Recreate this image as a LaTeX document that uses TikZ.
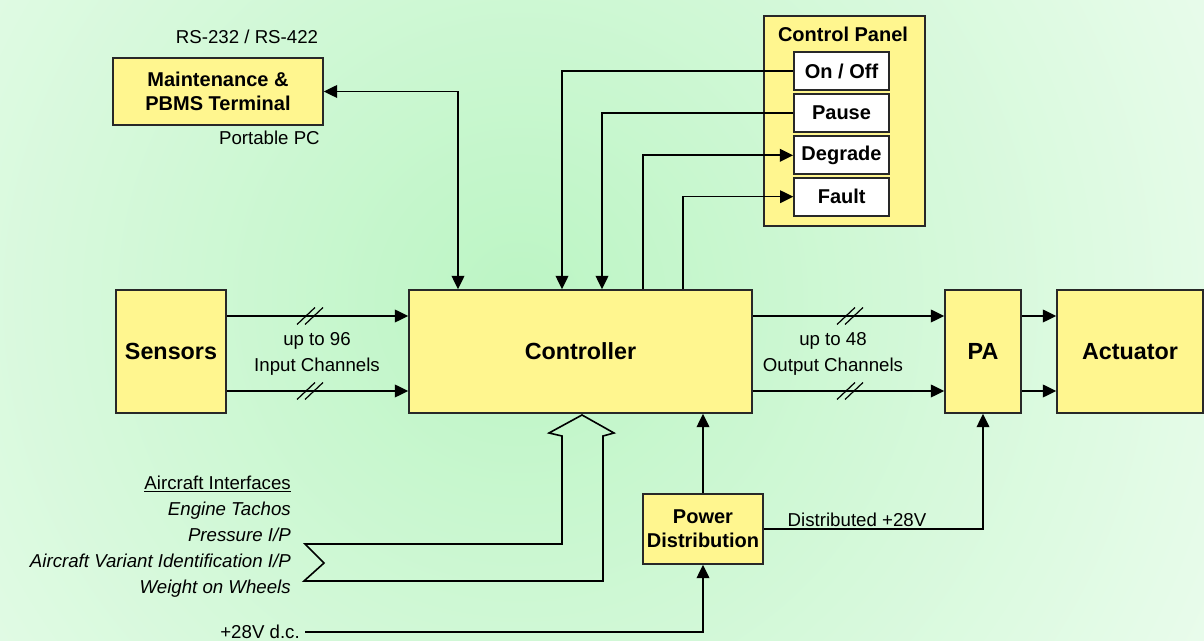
\documentclass[tikz,border=0pt]{standalone}
\usepackage{fontspec}
\setmainfont{Liberation Sans}
\usetikzlibrary{arrows.meta,calc}
\definecolor{boxyellow}{RGB}{255,246,143}
\definecolor{bggreen}{RGB}{188,245,196}
\definecolor{edge}{RGB}{40,40,40}
\begin{document}
\begin{tikzpicture}[x=0.75pt,y=-0.75pt,
  box/.style={draw=edge,line width=1.2pt,fill=boxyellow,inner sep=0pt,align=center,
    font=\fontsize{15}{18}\selectfont\bfseries},
  bigbox/.style={box,font=\fontsize{17.5}{20}\selectfont\bfseries},
  swbox/.style={draw=edge,line width=1.3pt,fill=white,inner sep=0pt,
    minimum width=71.25pt,minimum height=28.5pt,font=\fontsize{15}{18}\selectfont\bfseries},
  txt/.style={inner sep=0pt,font=\fontsize{14}{19}\selectfont,align=center},
  arr/.style={line width=1.2pt,-{Triangle[length=10pt,width=9.5pt]}},
  arrboth/.style={line width=1.2pt,{Triangle[length=10pt,width=9.5pt]}-{Triangle[length=10pt,width=9.5pt]}},
  ln/.style={line width=1.2pt},
  slash/.style={line width=0.9pt}]
\useasboundingbox (0,0) rectangle (1204,641);
\begin{scope}
  \clip (0,0) rectangle (1204,641);
  \fill[white] (0,0) rectangle (1204,641);
  \shade[inner color=bggreen,outer color=white] (520,300) circle (1150);
\end{scope}

% boxes
\node[box,minimum width=157.5pt,minimum height=50.25pt] (maint) at (218,91.5) {Maintenance \&\\PBMS Terminal};
\node[txt] (rs) at (247,37) {RS-232 / RS-422};
\node[txt,anchor=east] (ppc) at (320,138) {Portable PC};

\node[box,minimum width=120.75pt,minimum height=157.5pt] (cpanel) at (844.5,121) {};
\node[txt,font=\fontsize{15}{18}\selectfont\bfseries] (cptitle) at (843,34) {Control Panel};
\node[swbox] (onoff) at (841.5,71) {On / Off};
\node[swbox] (pause) at (841.5,113) {Pause};
\node[swbox] (degrade) at (841.5,155.3) {Degrade};
\node[swbox] (fault) at (841.7,196.7) {Fault};

\node[bigbox,minimum width=257.25pt,minimum height=92.25pt] (controller) at (580.5,351.5) {Controller};
\node[bigbox,minimum width=82.5pt,minimum height=92.25pt] (sensors) at (171,351.5) {Sensors};
\node[bigbox,minimum width=57pt,minimum height=92.25pt] (pa) at (983,351.5) {PA};
\node[bigbox,minimum width=109.5pt,minimum height=92.25pt] (actuator) at (1130,351.5) {Actuator};
\node[box,minimum width=90pt,minimum height=52.5pt] (power) at (703,529) {Power\\Distribution};

% labels
\node[txt] (inlbl) at (317,354) {up to 96\\Input Channels};
\node[txt] (outlbl) at (833,354) {up to 48\\Output Channels};
\node[txt] (distlbl) at (857,520) {Distributed +28V};
\node[txt,anchor=east] (v28) at (300,632) {+28V d.c.};
\node[txt,anchor=east,align=right,font=\fontsize{14}{19.4}\selectfont] (acif) at (291,536.5)
  {\underline{Aircraft Interfaces}\\\itshape Engine Tachos\\\itshape Pressure I/P\\
   \itshape Aircraft Variant Identification I/P\\\itshape Weight on Wheels};

% connectors
\draw[arrboth] (maint.east) -| (458,0 |- controller.north);
\draw[arr] (onoff.west) -| (562,0 |- controller.north);
\draw[arr] (pause.west) -| (602,0 |- controller.north);
\draw[arr] (643,0 |- controller.north) |- (degrade.west);
\draw[arr] (683,0 |- controller.north) |- (fault.west);

\draw[arr] (sensors.east |- 0,316) -- (controller.west |- 0,316);
\draw[arr] (sensors.east |- 0,391) -- (controller.west |- 0,391);
\draw[arr] (controller.east |- 0,316) -- (pa.west |- 0,316);
\draw[arr] (controller.east |- 0,391) -- (pa.west |- 0,391);
\draw[arr] (pa.east |- 0,316) -- (actuator.west |- 0,316);
\draw[arr] (pa.east |- 0,391) -- (actuator.west |- 0,391);

\draw[arr] (power.north) -- (power.north |- controller.south);
\draw[arr] (power.east) -| (pa.south);
\draw[arr] (v28.east) ++(5,0) -| (power.south);

% bus slashes
\foreach \cx/\cy in {306/316,314/316,306/391,314/391,846/316,854/316,846/391,854/391}
  \draw[slash] (\cx-9,\cy+8.5) -- (\cx+9,\cy-8.5);

% hollow bus arrow into controller
\coordinate (bustip) at (582,415);
\draw[ln,line join=miter] (562,436) -- (549,433) -- (bustip) -- (614,433) -- (603,436)
  -- (603,581) -- (304,581) -- (324,563) -- (305,544) -- (562,544) -- cycle;
\end{tikzpicture}
\end{document}
